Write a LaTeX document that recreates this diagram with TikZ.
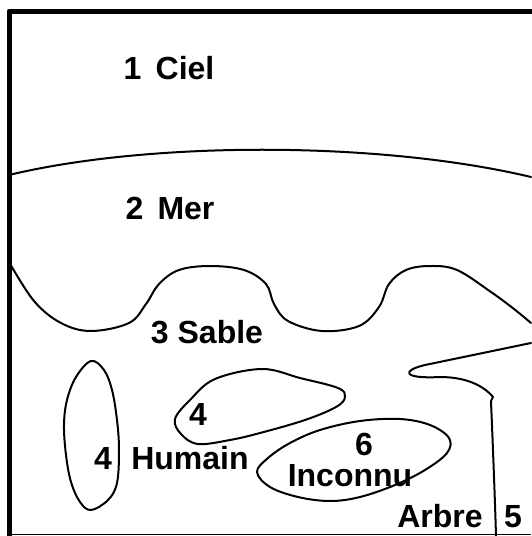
\documentclass[tikz,border=0pt]{standalone}
\usepackage{fontspec}
\setmainfont{Liberation Sans}
\begin{document}
\begin{tikzpicture}[x=1pt,y=-1pt,line join=round,line cap=round,
    zone/.style={line width=2pt},
    etiq/.style={anchor=base,inner sep=0pt,font=\fontsize{32}{34}\selectfont\bfseries}]
        \useasboundingbox (0,0) rectangle (531,536);
        \draw[line width=5pt,line cap=rect] (531,11) -- (9,11) -- (9,536);
        \draw[line width=1.5pt,line cap=butt] (9,534.5) -- (531,534.5);

        \draw[zone] (9,175) .. controls (150,141) and (380,141) .. (531,177);
        \draw[zone] plot[smooth,tension=0.6] coordinates {(9,262) (34,301) (61,323) (91,331)
            (129,323) (146,304) (159,284) (179,270) (210,266) (244,270) (266,284) (274,304)
            (288,321) (322,331) (359,326) (379,307) (389,284) (406,270) (430,266) (457,270)
            (491,292) (514,309) (531,323)};
        \draw[zone] (531,343) -- (425,365) .. controls (400,371) and (404,379) .. (440,377)
            .. controls (465,377) and (483,385) .. (493,397) -- (491,401)
            .. controls (493,450) and (495,500) .. (496,536);

        \draw[zone] plot[smooth cycle,tension=0.6] coordinates {(91,361) (104,370) (112,390)
            (117,420) (119,450) (117,483) (108,500) (91,510) (80,502) (71,482) (66,455)
            (64,425) (67,400) (76,377)};
        \draw[zone] plot[smooth cycle,tension=0.6] coordinates {(175,419) (190,400) (215,379)
            (262,369) (300,378) (338,388) (345,397) (336,407) (305,420) (260,433) (230,440)
            (198,444) (181,434)};
        \draw[zone] plot[smooth cycle,tension=0.6] coordinates {(257,472) (268,458) (290,443)
            (320,430) (360,421) (400,419) (430,425) (449,438) (447,453) (425,470) (395,485)
            (360,497) (330,501) (298,497) (270,487)};

        \node[etiq] (ciel) at (169,79) {1\, Ciel};
        \node[etiq] (mer) at (170,219) {2\, Mer};
        \node[etiq] (sable) at (207,343) {3 Sable};
        \node[etiq] (num4) at (198,425) {4};
        \node[etiq] (num4b) at (103,469) {4};
        \node[etiq] (humain) at (190,469) {Humain};
        \node[etiq] (num6) at (364,455) {6};
        \node[etiq] (inconnu) at (350,486) {Inconnu};
        \node[etiq] (arbre) at (440,527) {Arbre};
        \node[etiq] (num5) at (513,527) {5};
    \end{tikzpicture}
\end{document}
